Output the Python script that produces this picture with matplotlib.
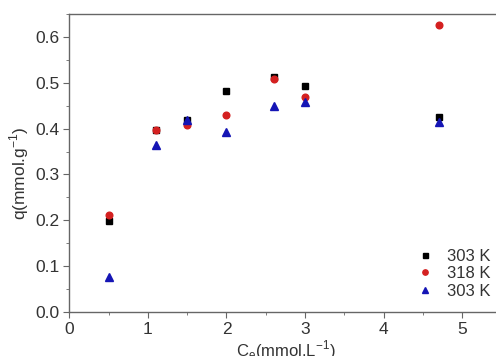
import matplotlib
matplotlib.use('Agg')
import matplotlib.pyplot as plt
from matplotlib.ticker import MultipleLocator, FormatStrFormatter

plt.rcParams['font.family'] = ['Liberation Sans', 'DejaVu Sans']

# data
ce = [0.5, 1.1, 1.5, 2.0, 2.6, 3.0, 4.7]
q_303a = [0.199, 0.396, 0.419, 0.483, 0.512, 0.492, 0.426]
q_318 = [0.212, 0.397, 0.407, 0.429, 0.509, 0.468, 0.626]
q_303b = [0.077, 0.364, 0.419, 0.393, 0.450, 0.457, 0.415]
labels = ['303 K', '318 K', '303 K']

fig = plt.figure(figsize=(4.96, 3.56), dpi=100)
# axes runs past the right edge (the original image is cropped there)
ax = fig.add_axes([0.1397, 0.1236, 0.8714, 0.8371])

ax.plot(ce, q_303a, 's', color='black', ms=4.5, label=labels[0])
ax.plot(ce, q_318, 'o', color='#d42020', ms=4.8, label=labels[1])
ax.plot(ce, q_303b, '^', color='#1515b5', ms=5.2, label=labels[2])

ax.set_xlim(0, 5.5)
ax.set_ylim(0, 0.65)
ax.xaxis.set_major_locator(MultipleLocator(1))
ax.xaxis.set_minor_locator(MultipleLocator(0.5))
ax.yaxis.set_major_locator(MultipleLocator(0.1))
ax.yaxis.set_minor_locator(MultipleLocator(0.05))
ax.yaxis.set_major_formatter(FormatStrFormatter('%.1f'))

for sp in ax.spines.values():
    sp.set_color('#666666')
    sp.set_linewidth(1.0)
ax.tick_params(which='major', direction='out', length=4, color='#666666',
               labelsize=12.5, labelcolor='#333333', pad=3)
ax.tick_params(which='minor', direction='out', length=2, color='#666666')

ax.set_xlabel('C$_\\mathregular{e}$(mmol.L$^\\mathregular{-1}$)', fontsize=12,
              color='#333333', labelpad=1)
ax.set_ylabel('q(mmol.g$^\\mathregular{-1}$)', fontsize=12.5, color='#333333')
ax.yaxis.set_label_coords(-0.088, 0.465)

leg = ax.legend(loc='lower right', bbox_to_anchor=(1.005, 0.0), frameon=False,
                fontsize=12, handlelength=1.0, handletextpad=0.8,
                labelspacing=0.15, markerscale=0.8, borderpad=0.3)
for t in leg.get_texts():
    t.set_color('#333333')

plt.savefig('out.png', dpi=100)
